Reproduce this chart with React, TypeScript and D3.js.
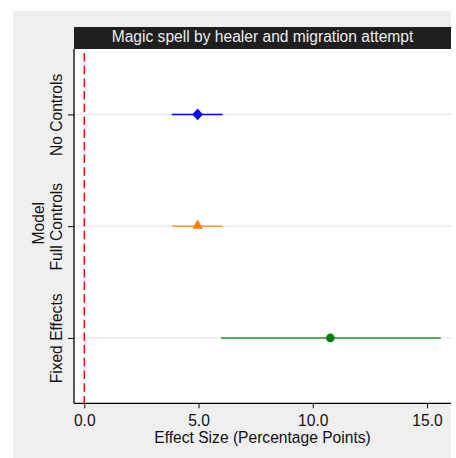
import React, { useEffect, useRef } from 'react'
import * as d3 from 'd3'

// values
const models = ['No Controls', 'Full Controls', 'Fixed Effects']
const estimates = [4.96, 4.96, 10.77]
const ciLow = [3.83, 3.83, 5.98]
const ciHigh = [6.05, 6.05, 15.6]
const markerShapes = ['diamond', 'triangle', 'circle']
const markerColors = ['#0000ff', '#ff7f00', '#008000']
const lineColors = ['#0000ff', '#ff9a33', '#2e8b2e']
const xTicks = [0, 5, 10, 15]

const title = 'Magic spell by healer and migration attempt'
const xLabel = 'Effect Size (Percentage Points)'
const yLabel = 'Model'

const W = 456
const H = 458
const FONT = '"Liberation Sans", Arial, Helvetica, sans-serif'

function App() {
    const xAxisRef = useRef<SVGGElement>(null)
    const yAxisRef = useRef<SVGGElement>(null)

    const panel = { left: 13, top: 11, right: 451, bottom: 458 }
    const plot = { left: 74, right: 451, top: 49, bottom: 403.3 }
    const titleTop = 27

    const x = d3.scaleLinear()
        .domain([-0.45, 16.05])
        .range([plot.left, plot.right])

    const y = d3.scalePoint<string>()
        .domain(models)
        .range([plot.top, plot.bottom])
        .padding(0.585)

    useEffect(() => {
        const gx = d3.select(xAxisRef.current)
        gx.selectAll('*').remove()
        gx.call(d3.axisBottom(x).tickValues(xTicks).tickFormat(d3.format('.1f')).tickSize(5).tickSizeOuter(0) as any)
        gx.select('.domain').attr('stroke', '#000').attr('stroke-width', 1.3)
            .attr('d', `M${plot.left},0H${plot.right}`)
        gx.selectAll('.tick line').attr('stroke', '#000')
        gx.selectAll('.tick text')
            .attr('y', 0).attr('dy', 0)
            .attr('transform', 'translate(0,22.4)')
            .style('font-family', FONT).style('font-size', '15.6px').attr('fill', '#111')

        const gy = d3.select(yAxisRef.current)
        gy.selectAll('*').remove()
        gy.call(d3.axisLeft(y).tickSize(6).tickSizeOuter(0) as any)
        gy.select('.domain').attr('stroke', '#000').attr('stroke-width', 1.3)
            .attr('d', `M0,${plot.top}V${plot.bottom}`)
        gy.selectAll('.tick line').attr('stroke', '#000')
        gy.selectAll('.tick text')
            .attr('x', 0).attr('dy', 0)
            .attr('text-anchor', 'middle')
            .attr('transform', 'translate(-11.7,0) rotate(-90)')
            .style('font-family', FONT).style('font-size', '15.6px').attr('fill', '#111')
    }, [])

    const symbol = (shape: string) => {
        if (shape === 'diamond') return 'M0,-5.9L5.3,0L0,5.9L-5.3,0Z'
        if (shape === 'triangle') return d3.symbol(d3.symbolTriangle, 50)()
        return d3.symbol(d3.symbolCircle, 58)()
    }

    return (
        <svg width={W} height={H} style={{ position: 'absolute', left: 0, top: 0, background: '#fff' }}>
            <rect x={panel.left} y={panel.top} width={panel.right - panel.left} height={panel.bottom - panel.top} fill="#efefef" />
            <rect x={plot.left} y={plot.top} width={plot.right - plot.left} height={plot.bottom - plot.top} fill="#fff" />

            {/* title strip */}
            <rect x={plot.left} y={titleTop} width={plot.right - plot.left} height={plot.top - titleTop} fill="#1f1f1f" />
            <text x={(plot.left + plot.right) / 2} y={41.6} textAnchor="middle" fill="#ececec"
                style={{ fontFamily: FONT, fontSize: '15.6px' }}>{title}</text>

            {/* grid lines */}
            {models.map(m => (
                <line key={m} x1={plot.left} x2={plot.right} y1={y(m)} y2={y(m)} stroke="#e6e6e6" strokeWidth={1.2} />
            ))}

            {/* zero reference */}
            <line x1={x(0)} x2={x(0)} y1={plot.top + 4} y2={plot.bottom} stroke="#ff0000" strokeWidth={1.4} strokeDasharray="8.5,4.2" />

            {/* intervals and estimates */}
            {models.map((m, i) => (
                <g key={m}>
                    <line x1={x(ciLow[i])} x2={x(ciHigh[i])} y1={y(m)} y2={y(m)} stroke={lineColors[i]} strokeWidth={1.5} />
                    <path d={symbol(markerShapes[i]) || ''} fill={markerColors[i]}
                        transform={`translate(${x(estimates[i])},${(y(m) || 0) + (markerShapes[i] === 'triangle' ? -0.5 : 0)})`} />
                </g>
            ))}

            <g ref={xAxisRef} transform={`translate(0,${plot.bottom})`} />
            <g ref={yAxisRef} transform={`translate(${plot.left},0)`} />

            <text x={(plot.left + plot.right) / 2} y={443.3} textAnchor="middle" fill="#111"
                style={{ fontFamily: FONT, fontSize: '15.6px' }}>{xLabel}</text>
            <text transform={`translate(44.3,${(plot.top + plot.bottom) / 2 - 3}) rotate(-90)`} textAnchor="middle" fill="#111"
                style={{ fontFamily: FONT, fontSize: '15.6px' }}>{yLabel}</text>
        </svg>
    )
}

export default App
